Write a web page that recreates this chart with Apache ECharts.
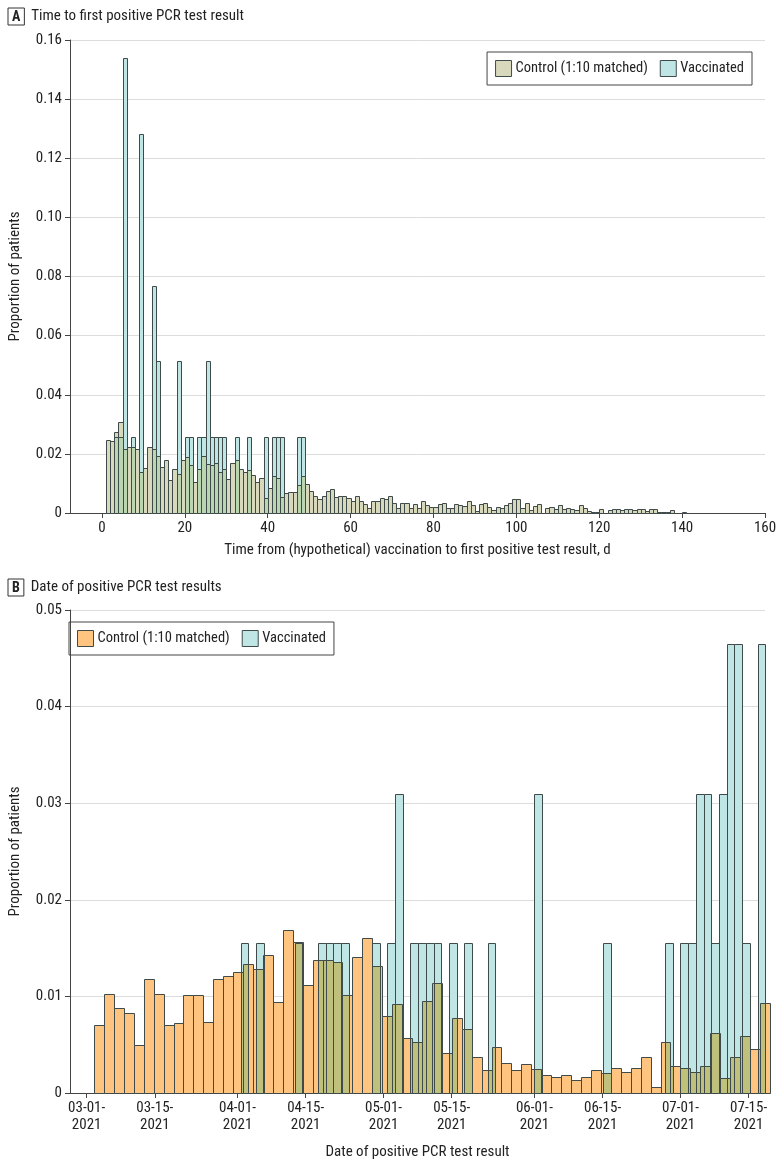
<!DOCTYPE html>
<html><head><meta charset="utf-8">
<script src="https://cdn.jsdelivr.net/npm/echarts@6/dist/echarts.min.js"></script>
<style>html,body{margin:0;padding:0;background:#fff}#c{width:783px;height:1165px}</style>
</head><body><div id="c"></div>
<script>
// ---------- Panel A: time to first positive test (daily bins) ----------
const aFirstDay = 1;           // first bin starts at day 1, bins 1 day wide
const aBinWidth = 1;
const aControl = [
 0.0247,0.0243,0.0274,0.0309,0.0215,0.0224,0.0224,0.0215,0.0138,0.0153,
 0.0224,0.0215,0.0192,0.0154,0.0179,0.0111,0.0148,0.0133,0.0179,0.0189,
 0.0162,0.0105,0.0148,0.0193,0.0165,0.0164,0.0168,0.0138,0.0148,0.0116,
 0.0170,0.0178,0.0150,0.0139,0.0145,0.0127,0.0104,0.0120,0.0050,0.0084,
 0.0125,0.0118,0.0053,0.0067,0.0070,0.0070,0.0094,0.0125,0.0098,0.0075,
 0.0058,0.0046,0.0058,0.0076,0.0081,0.0053,0.0058,0.0058,0.0050,0.0040,
 0.0056,0.0040,0.0031,0.0018,0.0040,0.0041,0.0051,0.0049,0.0057,0.0034,
 0.0016,0.0034,0.0034,0.0017,0.0031,0.0017,0.0041,0.0026,0.0020,0.0020,
 0.0031,0.0034,0.0016,0.0016,0.0030,0.0027,0.0022,0.0041,0.0027,0.0008,
 0.0030,0.0034,0.0020,0.0010,0.0020,0.0017,0.0028,0.0034,0.0048,0.0048,
 0.0016,0.0034,0.0010,0.0024,0.0030,0.0000,0.0016,0.0020,0.0014,0.0026,
 0.0014,0.0016,0.0013,0.0010,0.0026,0.0017,0.0008,0.0002,0.0005,0.0015,
 0.0000,0.0009,0.0012,0.0012,0.0009,0.0012,0.0012,0.0009,0.0012,0.0012,
 0.0008,0.0015,0.0012,0.0005,0.0005,0.0003,0.0009,0.0000,0.0000,0.0003
];
const aVaccDays  = [3,4,5,7,9,12,13,18,20,21,23,24,25,26,27,28,29,32,35,39,41,42,43,47,48];
const aVaccProps = [0.0256,0.0256,0.1538,0.0256,0.1282,0.0769,0.0513,0.0513,0.0256,0.0256,
                    0.0256,0.0256,0.0513,0.0256,0.0256,0.0256,0.0256,0.0256,0.0256,0.0256,
                    0.0256,0.0256,0.0256,0.0256,0.0256];
const aXTicks = [0,20,40,60,80,100,120,140,160];

// ---------- Panel B: date of positive test (days since 03-01-2021) ----------
const bCtrlStart = 1.51, bCtrlWidth = 2.042;   // control bins
const bVaccStart = 31.66, bVaccWidth = 1.585;  // vaccinated bins
const bControl = [
 0.0070,0.0103,0.0088,0.0083,0.0050,0.0118,0.0103,0.0070,0.0072,0.0101,
 0.0101,0.0073,0.0118,0.0121,0.0125,0.0134,0.0128,0.0143,0.0094,0.0169,
 0.0156,0.0112,0.0138,0.0138,0.0136,0.0101,0.0141,0.0160,0.0131,0.0080,
 0.0092,0.0057,0.0053,0.0095,0.0114,0.0041,0.0078,0.0066,0.0037,0.0024,
 0.0048,0.0031,0.0024,0.0030,0.0025,0.0019,0.0017,0.0019,0.0013,0.0017,
 0.0024,0.0021,0.0026,0.0022,0.0026,0.0037,0.0006,0.0053,0.0028,0.0026,
 0.0022,0.0028,0.0062,0.0016,0.0037,0.0059,0.0046,0.0093
];
const bVacc = [
 0.0155,0,0.0155,0,0,0,0,0.0155,0,0,
 0.0155,0.0155,0.0155,0.0155,0,0,0,0.0155,0,0.0155,
 0.031,0,0.0155,0.0155,0.0155,0.0155,0,0.0155,0,0.0155,
 0,0,0.0155,0,0,0,0,0,0.031,0,
 0,0,0,0,0,0,0,0.0155,0,0,
 0,0,0,0,0,0.0155,0,0.0155,0.0155,0.031,
 0.031,0.0155,0.031,0.0465,0.0465,0.0155,0,0.0465
];
const bTickDays   = [0,14,31,45,61,75,92,106,122,136];
const bTickLabels = ['03-01-\n2021','03-15-\n2021','04-01-\n2021','04-15-\n2021','05-01-\n2021',
                     '05-15-\n2021','06-01-\n2021','06-15-\n2021','07-01-\n2021','07-15-\n2021'];

// ---------- derived rectangles [x0, x1, h] ----------
const aCtrlRects = aControl.map((v,i)=>[aFirstDay+i*aBinWidth, aFirstDay+(i+1)*aBinWidth, v]);
const aVaccRects = aVaccDays.map((d,i)=>[d, d+aBinWidth, aVaccProps[i]]);
const aOverRects = aVaccDays.map((d,i)=>{
  const c = aControl[(d-aFirstDay)/aBinWidth] || 0;
  return [d, d+aBinWidth, Math.min(c, aVaccProps[i])];
});
const bCtrlRects = bControl.map((v,i)=>[bCtrlStart+i*bCtrlWidth, bCtrlStart+(i+1)*bCtrlWidth, v]);
const bVaccRects = bVacc.map((v,i)=>[bVaccStart+i*bVaccWidth, bVaccStart+(i+1)*bVaccWidth, v]);
const bOverRects = [];
bVaccRects.forEach(vr=>{
  if (vr[2] <= 0) return;
  bCtrlRects.forEach(cr=>{
    const lo = Math.max(vr[0], cr[0]), hi = Math.min(vr[1], cr[1]);
    if (hi > lo && cr[2] > 0) bOverRects.push([lo, hi, Math.min(vr[2], cr[2])]);
  });
});

const FONT = "'Roboto Condensed','Liberation Sans Narrow','Arial Narrow','Liberation Sans',sans-serif";
const EDGE = '#3f4a4a';
const C = {ctrlA:'#d8d8bd', vacc:'#bfe5e5', overA:'#bad6b1', ctrlB:'#ffc47f', overB:'#bfc07c'};

function rectRender(fill) {
  return function(params, api) {
    const x0 = api.value(0), x1 = api.value(1), h = api.value(2);
    if (!(h > 0)) return null;
    const p0 = api.coord([x0, 0]), p1 = api.coord([x1, h]);
    const L = Math.round(p0[0]) + 0.5, R = Math.round(p1[0]) + 0.5;
    const T = Math.round(p1[1]) + 0.5, B = Math.round(p0[1]) + 0.5;
    return {type:'rect', shape:{x:L, y:T, width:R-L, height:B-T},
            style:{fill:fill, stroke:EDGE, lineWidth:1}};
  };
}
function barSeries(name, rects, fill, xi, z) {
  return {type:'custom', name:name, xAxisIndex:xi, yAxisIndex:xi, data:rects,
          encode:{x:[0,1], y:2}, renderItem:rectRender(fill), z:z,
          itemStyle:{color:fill, borderColor:EDGE, borderWidth:1}, silent:true};
}

const FS = 15;
const axisTxt = {color:'#222', fontSize:FS, fontFamily:FONT};
const titleStyle = {fontSize:FS, fontWeight:'normal', color:'#222', fontFamily:FONT,
  rich:{b:{fontSize:14, fontWeight:'bold', borderColor:'#333', borderWidth:1,
           padding:[2,4,1,4], color:'#222', fontFamily:FONT}}};
const legendBase = {orient:'horizontal', borderColor:'#444', borderWidth:1, padding:[8,8,8,8],
  itemWidth:16, itemHeight:16, itemGap:12, icon:'rect', selectedMode:false,
  textStyle:{fontSize:14.5, color:'#222', fontFamily:FONT, padding:[0,0,0,-1]}};

const chart = echarts.init(document.getElementById('c'), null, {renderer:'canvas'});
chart.setOption({
  animation:false,
  backgroundColor:'#fff',
  title:[
    {text:'{b|A}  Time to first positive PCR test result', left:3, top:3, textStyle:titleStyle},
    {text:'{b|B}  Date of positive PCR test results', left:3, top:574, textStyle:titleStyle}
  ],
  legend:[
    Object.assign({right:31, top:52,
     data:[{name:'Control (1:10 matched)', itemStyle:{color:C.ctrlA, borderColor:EDGE, borderWidth:1}},
           {name:'Vaccinated', itemStyle:{color:C.vacc, borderColor:EDGE, borderWidth:1}}]}, legendBase),
    Object.assign({left:69, top:622,
     data:[{name:'Control (1:10 matched)', itemStyle:{color:C.ctrlB, borderColor:EDGE, borderWidth:1}},
           {name:'Vaccinated', itemStyle:{color:C.vacc, borderColor:EDGE, borderWidth:1}}]}, legendBase)
  ],
  grid:[
    {left:56, top:40, width:709, height:473},
    {left:56, top:610, width:709, height:483}
  ],
  xAxis:[
    {type:'value', gridIndex:0, min:-7.7, max:160,
     name:'Time from (hypothetical) vaccination to first positive test result, d',
     nameLocation:'middle', nameGap:30, nameTextStyle:axisTxt,
     axisLine:{onZero:false, lineStyle:{color:'#444'}}, splitLine:{show:false},
     axisTick:{customValues:aXTicks, length:5, lineStyle:{color:'#444'}},
     axisLabel:Object.assign({customValues:aXTicks, margin:8}, axisTxt)},
    {type:'value', gridIndex:1, min:-3.42, max:139.37,
     name:'Date of positive PCR test result',
     nameLocation:'middle', nameGap:52, nameTextStyle:axisTxt,
     axisLine:{onZero:false, lineStyle:{color:'#444'}}, splitLine:{show:false},
     axisTick:{customValues:bTickDays, length:5, lineStyle:{color:'#444'}},
     axisLabel:Object.assign({customValues:bTickDays, margin:7, lineHeight:17,
        formatter:v=>bTickLabels[bTickDays.indexOf(Math.round(v))] || ''}, axisTxt)}
  ],
  yAxis:[
    {type:'value', gridIndex:0, min:0, max:0.16, interval:0.02,
     name:'Proportion of patients', nameLocation:'middle', nameGap:47, nameTextStyle:axisTxt,
     axisLine:{show:true, onZero:false, lineStyle:{color:'#444'}},
     axisTick:{show:true, length:5, lineStyle:{color:'#444'}},
     splitLine:{lineStyle:{color:'#dcdcdc'}},
     axisLabel:Object.assign({margin:8, formatter:v=>v===0?'0':v.toFixed(2)}, axisTxt)},
    {type:'value', gridIndex:1, min:0, max:0.05, interval:0.01,
     name:'Proportion of patients', nameLocation:'middle', nameGap:47, nameTextStyle:axisTxt,
     axisLine:{show:true, onZero:false, lineStyle:{color:'#444'}},
     axisTick:{show:true, length:5, lineStyle:{color:'#444'}},
     splitLine:{lineStyle:{color:'#dcdcdc'}},
     axisLabel:Object.assign({margin:8, formatter:v=>v===0?'0':v.toFixed(2)}, axisTxt)}
  ],
  series:[
    barSeries('Control (1:10 matched)', aCtrlRects, C.ctrlA, 0, 2),
    barSeries('Vaccinated', aVaccRects, C.vacc, 0, 3),
    barSeries('overlapA', aOverRects, C.overA, 0, 4),
    barSeries('Control (1:10 matched)', bCtrlRects, C.ctrlB, 1, 2),
    barSeries('Vaccinated', bVaccRects, C.vacc, 1, 3),
    barSeries('overlapB', bOverRects, C.overB, 1, 4)
  ]
});
</script></body></html>
